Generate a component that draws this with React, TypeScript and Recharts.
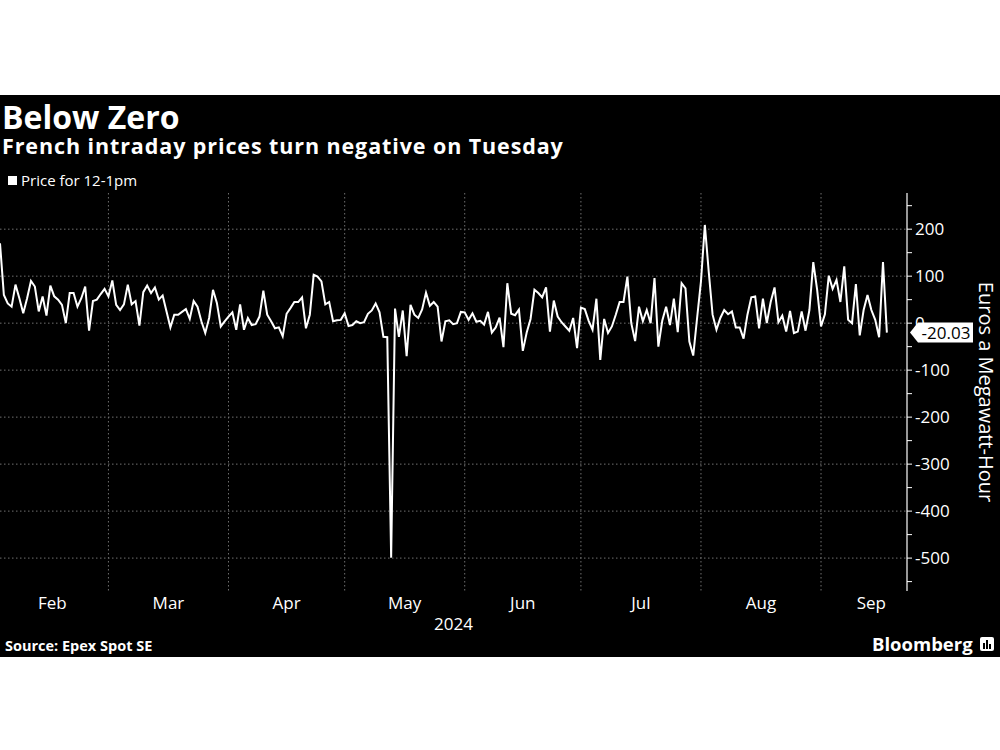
import React from "react";
import { LineChart, Line, XAxis, YAxis, CartesianGrid, ReferenceDot } from "recharts";

// daily price for 12-1pm, Feb 2 .. Sep 17 2024 (EUR/MWh)
const prices = [
  170, 60, 42, 35, 82, 53, 21, 53, 90, 78, 25, 57, 16, 80, 57, 50, 39, 0, 64, 64,
  35, 53, 78, -16, 47, 50, 62, 73, 57, 91, 39, 28, 40, 82, 40, 47, -5, 66, 80, 64,
  76, 50, 59, 25, -9, 18, 18, 24, 30, 9, 47, 35, 4, -21, 11, 71, 43, -7, 4, 14,
  23, -14, 40, -14, 11, -4, -2, 14, 69, 18, 4, -11, -9, -28, 20, 32, 45, 45, 55, -11,
  18, 103, 99, 89, 40, 45, 4, 6, 7, 21, -6, -4, 4, 0, 2, 20, 27, 42, 23, -29,
  -30, -499, 31, -29, 27, -70, 39, 18, 11, 29, 65, 37, 45, 35, -39, 4, 6, -2, 0, 24,
  23, 7, 21, 3, 5, -3, 24, -20, -9, 12, -51, 85, 20, 17, 29, -59, -20, 9, 71, 64,
  55, 76, -18, 48, 14, 2, -7, -16, 11, -53, 33, 30, 5, -14, 52, -78, 9, -21, -7, 18,
  45, 45, 99, 0, -38, 35, 4, 28, 0, 96, -50, 5, 35, -4, 52, -19, 85, 74, -39, -69,
  11, 89, 209, 110, 18, -14, 11, 28, 19, 25, -9, -9, -33, 18, 55, 57, -11, 52, 0, 45,
  76, 2, 16, -18, 26, -21, -18, 25, -16, 28, 130, 71, -7, 19, 101, 73, 92, 45, 121, 7,
  0, 83, -26, 28, 60, 28, 7, -30, 130, -20.03,
];

const monthLabels = ["Feb", "Mar", "Apr", "May", "Jun", "Jul", "Aug", "Sep"];
const monthStarts = [28, 59, 89, 120, 150, 181, 212];
const monthMids = [13.5, 43.5, 74, 104.5, 135, 165.5, 196.5, 225];
const yearLabel = "2024";

const majorTicks = [-500, -400, -300, -200, -100, 0, 100, 200];
const minorTicks = [-550, -450, -350, -250, -150, -50, 50, 150, 250];

const data = prices.map((price, i) => ({ day: i, price }));
const lastPrice = prices[prices.length - 1];
const lastLabel = lastPrice.toFixed(2);

const xMax = 234.2;
const font = "'Open Sans', sans-serif";

const allYTicks = [...majorTicks, ...minorTicks].sort((a, b) => a - b);

function Callout(props: any) {
  const { cx, cy } = props;
  const x0 = cx + 3;
  return (
    <g>
      <path
        d={`M${x0},${cy} L${x0 + 8},${cy - 10} L${x0 + 63},${cy - 10} L${x0 + 63},${cy + 10} L${x0 + 8},${cy + 10} Z`}
        fill="#fff"
      />
      <text x={x0 + 36} y={cy} dy="0.36em" textAnchor="middle" fontSize={17} fontFamily={font} fill="#000">
        {lastLabel}
      </text>
    </g>
  );
}

function YTitle(props: any) {
  const { viewBox } = props;
  const x = viewBox.x + viewBox.width - 14;
  const y = viewBox.y + viewBox.height / 2;
  return (
    <text
      x={x}
      y={y}
      dy="0.35em"
      transform={`rotate(90, ${x}, ${y})`}
      textAnchor="middle"
      fontSize={20}
      fontFamily={font}
      fill="#fff"
    >
      Euros a Megawatt-Hour
    </text>
  );
}

function YearLabel(props: any) {
  const { viewBox } = props;
  return (
    <text
      x={viewBox.x + viewBox.width / 2}
      y={viewBox.y + 39}
      textAnchor="middle"
      fontSize={17}
      fontFamily={font}
      fill="#fff"
    >
      {yearLabel}
    </text>
  );
}

export default function App() {
  return (
    <div style={{ position: "absolute", left: 0, top: 0, width: 1000, height: 750, background: "#fff" }}>
      <div style={{ position: "absolute", left: 0, top: 95, width: 1000, height: 562, background: "#000", fontFamily: font, color: "#fff" }}>
        <div style={{ position: "absolute", left: 2, top: 7, fontSize: 32, lineHeight: "30px", fontWeight: 700 }}>
          Below Zero
        </div>
        <div style={{ position: "absolute", left: 2, top: 40, fontSize: 21.5, lineHeight: "21px", fontWeight: 700, letterSpacing: 0.9 }}>
          French intraday prices turn negative on Tuesday
        </div>
        <div style={{ position: "absolute", left: 8, top: 78, fontSize: 15, lineHeight: "15px", display: "flex", alignItems: "center" }}>
          <span style={{ display: "inline-block", width: 9, height: 9, background: "#fff", marginRight: 4 }} />
          Price for 12-1pm
        </div>

        <div style={{ position: "absolute", left: 0, top: 0 }}>
          <LineChart width={1000} height={562} data={data} margin={{ top: 98, right: 0, bottom: 26, left: 0 }}>
            <CartesianGrid
              stroke="#707070"
              strokeDasharray="1.5 2.5"
              horizontalValues={majorTicks}
              verticalValues={monthStarts}
            />
            <XAxis
              xAxisId={0}
              dataKey="day"
              type="number"
              domain={[0, xMax]}
              ticks={monthStarts}
              tickFormatter={() => ""}
              tickSize={4}
              height={0}
              axisLine={{ stroke: "#fff", strokeWidth: 1.2 }}
              tickLine={{ stroke: "#fff" }}
            />
            <XAxis
              xAxisId="lbl"
              dataKey="day"
              type="number"
              domain={[0, xMax]}
              ticks={monthMids}
              tickFormatter={(v: number) => monthLabels[monthMids.indexOf(v)]}
              axisLine={false}
              tickLine={false}
              tickSize={0}
              tickMargin={6}
              height={40}
              tick={{ fill: "#fff", fontSize: 17, fontFamily: font }}
              label={<YearLabel />}
            />
            <YAxis
              orientation="right"
              width={93}
              type="number"
              domain={[-570, 277]}
              ticks={allYTicks}
              interval={0}
              tickFormatter={(v: number) => (majorTicks.includes(v) ? String(v) : "")}
              tickSize={5}
              tickMargin={3}
              axisLine={{ stroke: "#fff", strokeWidth: 1.2 }}
              tickLine={{ stroke: "#fff" }}
              tick={{ fill: "#fff", fontSize: 17, fontFamily: font }}
              label={<YTitle />}
            />
            <Line
              type="linear"
              dataKey="price"
              stroke="#fff"
              strokeWidth={2}
              dot={false}
              isAnimationActive={false}
            />
            <ReferenceDot x={xMax} y={lastPrice} ifOverflow="visible" shape={<Callout />} />
          </LineChart>
        </div>

        <div style={{ position: "absolute", left: 5, top: 543, fontSize: 14.5, lineHeight: "15px", fontWeight: 700 }}>
          Source: Epex Spot SE
        </div>
        <div style={{ position: "absolute", left: 872, top: 539, fontSize: 18.5, lineHeight: "19px", fontWeight: 700, display: "flex", alignItems: "center" }}>
          Bloomberg
          <svg width={14} height={14} style={{ marginLeft: 7 }}>
            <rect x={0} y={0} width={14} height={14} rx={2} fill="#fff" />
            <rect x={3} y={6} width={2} height={6} fill="#000" />
            <rect x={6} y={3} width={2} height={9} fill="#000" />
            <rect x={9} y={7} width={2} height={5} fill="#000" />
          </svg>
        </div>
      </div>
    </div>
  );
}
